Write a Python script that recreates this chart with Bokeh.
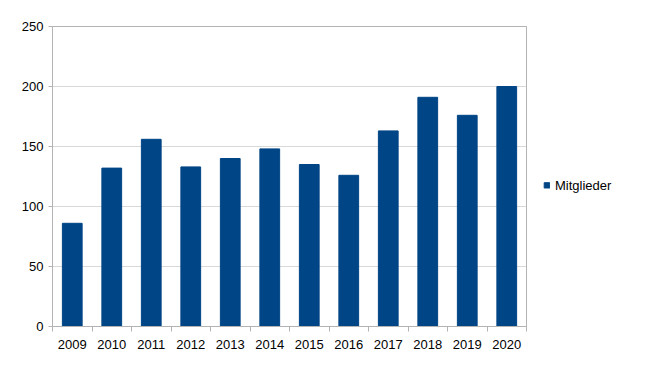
from bokeh.plotting import figure
from bokeh.models import ColumnDataSource, FixedTicker, Range1d, Legend, LegendItem
from bokeh.embed import file_html
from bokeh.resources import INLINE

years = ["2009", "2010", "2011", "2012", "2013", "2014", "2015", "2016", "2017", "2018", "2019", "2020"]
mitglieder = [86, 132, 156, 133, 140, 148, 135, 126, 163, 191, 176, 200]
y_ticks = [0, 50, 100, 150, 200, 250]

n = len(years)
centers = [i + 0.5 for i in range(n)]
bounds = list(range(n + 1))

src = ColumnDataSource(dict(x=centers, top=mitglieder, year=years))

p = figure(frame_width=474, frame_height=300, output_backend="svg", toolbar_location=None,
           x_range=Range1d(0, n), y_range=Range1d(0, 250),
           min_border_left=52, min_border_top=26, min_border_bottom=45, min_border_right=0)
p.background_fill_color = "white"
p.border_fill_color = "white"
p.outline_line_color = "#b3b3b3"

r = p.vbar(x="x", top="top", width=0.5, source=src, fill_color="#004586", line_color="#004586")

FONT = "Liberation Sans"
p.xaxis.ticker = FixedTicker(ticks=centers, minor_ticks=bounds)
p.xaxis.major_label_overrides = {c: y for c, y in zip(centers, years)}
p.xaxis.major_tick_line_alpha = 0
p.xaxis.minor_tick_line_color = "#b3b3b3"
p.xaxis.minor_tick_out = 5
p.xaxis.minor_tick_in = 0
p.xaxis.axis_line_color = "#b3b3b3"
p.xaxis.major_label_text_font = FONT
p.xaxis.major_label_text_font_size = "13px"
p.xaxis.major_label_text_color = "black"
p.xaxis.major_label_standoff = 7

p.yaxis.ticker = FixedTicker(ticks=y_ticks)
p.yaxis.axis_line_color = "#b3b3b3"
p.yaxis.major_tick_line_color = "#b3b3b3"
p.yaxis.major_tick_out = 4
p.yaxis.major_tick_in = 0
p.yaxis.minor_tick_line_alpha = 0
p.yaxis.major_label_text_font = FONT
p.yaxis.major_label_text_font_size = "13px"
p.yaxis.major_label_text_color = "black"
p.yaxis.major_label_standoff = 5

p.xgrid.grid_line_alpha = 0
p.ygrid.grid_line_color = "#d9d9d9"

legend = Legend(items=[LegendItem(label="Mitglieder", renderers=[r])],
                location="left", orientation="vertical",
                title=" ", title_text_font_size="13px", title_standoff=3,
                padding=0, margin=17, border_line_alpha=0, background_fill_alpha=0,
                glyph_width=7, glyph_height=7, label_standoff=5,
                label_text_font=FONT, label_text_font_size="13px", label_text_color="black")
p.add_layout(legend, "right")

open("out.html", "w").write(file_html(p, INLINE))
